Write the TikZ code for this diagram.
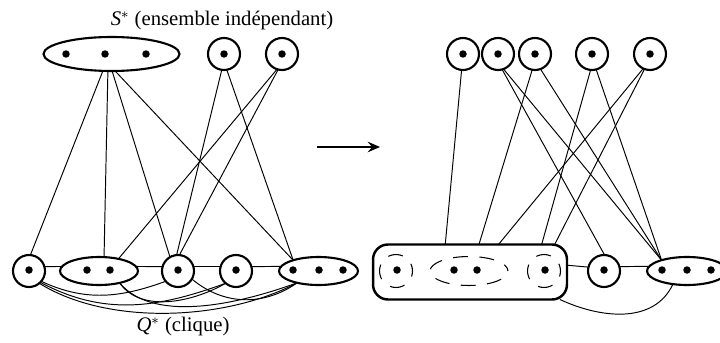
\documentclass[tikz,border=0pt]{standalone}
\usepackage{fontspec}
\setmainfont{Liberation Serif}
\usetikzlibrary{shapes.geometric,arrows.meta}
\begin{document}
\begin{tikzpicture}[x=0.02cm, y=0.02cm, font=\fontsize{11.8}{14}\selectfont]
     \tikzstyle{vtx}=[draw, circle, line width=1.2pt, minimum size=.64cm, inner sep=0pt, outer sep=0pt]
     \tikzstyle{grp}=[draw, ellipse, line width=1.2pt, minimum height=.56cm, inner sep=0pt, outer sep=0pt]
     \tikzstyle{part}=[draw, ellipse, line width=.6pt, dash pattern=on 8.5pt off 6.5pt, dash phase=4.25pt, minimum height=.66cm, inner sep=0pt]
     \tikzstyle{blk}=[draw, rectangle, rounded corners=.3cm, line width=1.4pt, minimum width=3.88cm, minimum height=1.1cm, inner sep=0pt, outer sep=0pt]
     \tikzstyle{dot}=[fill, circle, minimum size=.15cm, inner sep=0pt]
     \tikzstyle{edge}=[line width=.55pt]
     \tikzstyle{arr}=[line width=1.7pt, -{Stealth[length=7pt, width=6pt, inset=2.5pt]}]
     \useasboundingbox (0,0) rectangle (720,342);
     % avant : S* en haut, Q* en bas
     \node (lblS) at (222,321) {\textit{S}$^*$ (ensemble indépendant)};
     \node[grp, minimum width=2.72cm, minimum height=.68cm] (S) at (111.5,288) {};
     \node[vtx] (s4) at (224,288) {};
     \node[vtx] (s5) at (282,288) {};
     \node[vtx] (q1) at (29,71) {};
     \node[grp, minimum width=1.56cm] (q2) at (99,71) {};
     \node[vtx] (q3) at (178,71) {};
     \node[vtx] (q4) at (236,71) {};
     \node[grp, minimum width=1.58cm] (q5) at (318.5,71) {};
     \node (lblQ) at (183,15) {\textit{Q}$^*$ (clique)};
     \foreach \x [count=\i] in {66,105,146,224,282}
       \node[dot] (ds\i) at (\x,288) {};
     \foreach \x [count=\i] in {29,87,110,178,236,293,319,343}
       \node[dot] (dq\i) at (\x,72) {};
     \draw[edge] (S.243) -- (q1.85);
     \draw[edge] (S.258) -- (q2.70);
     \draw[edge] (S.272) -- (q3.120);
     \draw[edge] (S.282) -- (q5.157);
     \draw[edge] (s4.262) -- (q3.95);
     \draw[edge] (s4.280) -- (q5.157);
     \draw[edge] (s5.252) -- (q2.32);
     \draw[edge] (s5.256) -- (q3.85);
     \draw[edge] (q1.16) -- (q2.173);
     \draw[edge] (q2.7) -- (q3.164);
     \draw[edge] (q3.16) -- (q4.164);
     \draw[edge] (q4.16) -- (q5.173);
     \draw[edge] (q1.-40) to[out=-25, in=-160] (q3.-140);
     \draw[edge] (q1.-45) to[out=-28, in=-160] (q4.-130);
     \draw[edge] (q1.-50) to[out=-32, in=-152, looseness=.8] (q5.-151);
     \draw[edge] (q2.-30) to[out=-55, in=-150, looseness=.9] (q4.-130);
     \draw[edge] (q2.-30) to[out=-50, in=-160, looseness=.8] (q5.-151);
     \draw[edge] (q3.-30) to[out=-40, in=-145] (q5.-151);
     % fleche
     \coordinate (a1) at (317,195);
     \coordinate (a2) at (380,195);
     \draw[arr] (a1) -- (a2);
     % apres
     \foreach \x [count=\i] in {463,498,535,592,650}
       \node[vtx] (c\i) at (\x,288) {};
     \foreach \x [count=\i] in {463,498,535,592,650}
       \node[dot] (dc\i) at (\x,288) {};
     \node[blk] (R) at (470,70) {};
     \node[part, minimum width=.66cm] (p1) at (396,71) {};
     \node[part, minimum width=1.56cm, minimum height=.58cm] (p2) at (469,71) {};
     \node[part, minimum width=.66cm] (p3) at (544,71) {};
     \node[vtx] (q4p) at (604,71) {};
     \node[grp, minimum width=1.6cm] (q5p) at (687,71) {};
     \foreach \x [count=\i] in {397,454,477,545,604,662,687,711}
       \node[dot] (dr\i) at (\x,72) {};
     \draw[edge] (c1.265) -- (R.132);
     \draw[edge] (c2.285) -- (q4p.88);
     \draw[edge] (c2.290) -- (q5p.157);
     \draw[edge] (c3.260) -- (R.72);
     \draw[edge] (c3.290) -- (q5p.157);
     \draw[edge] (c4.265) -- (R.21);
     \draw[edge] (c4.285) -- (q5p.157);
     \draw[edge] (c5.245) -- (R.44);
     \draw[edge] (c5.250) -- (R.18);
     \draw[edge] (R.4) -- (q4p.166);
     \draw[edge] (q4p.16) -- (q5p.173);
     \draw[edge] (R.-17) to[out=-25, in=-115] (q5p.-137);
\end{tikzpicture}
\end{document}
